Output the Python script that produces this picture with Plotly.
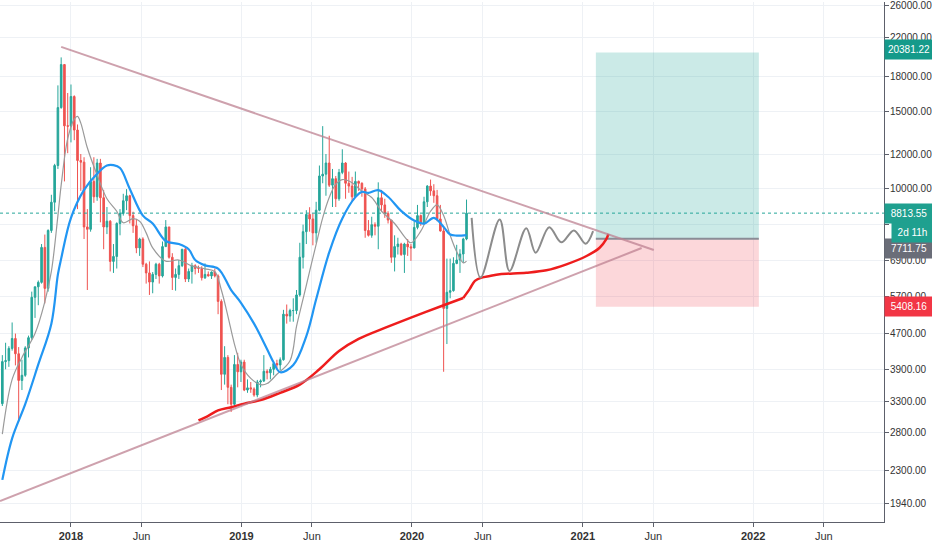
import math
import pandas as pd
import plotly.graph_objects as go

# weekly BTC candles, Monday open
week_start = pd.date_range("2017-08-07", periods=143, freq="7D")

opens = [3260, 4060, 4080, 4350, 4580, 4230, 3680, 3780, 4360, 4600,
         5680, 6000, 6140, 7370, 5950, 8050, 9330, 11300, 15290, 19140,
         13900, 13880, 16200, 13600, 11600, 11500, 8200, 8100, 10400, 9600,
         11450, 9550, 8200, 8450, 6850, 7030, 8350, 8800, 9400, 9650,
         8700, 8250, 7350, 7700, 6750, 6450, 6150, 6400, 6750, 6350,
         7400, 8200, 7000, 6300, 6400, 6700, 7300, 6250, 6500, 6700,
         6600, 6600, 6290, 6400, 6350, 6480, 6350, 5560, 3800, 4150,
         3550, 3250, 4000, 3850, 4050, 3500, 3540, 3520, 3410, 3650,
         3670, 3860, 3830, 3900, 4020, 3990, 4100, 5200, 5150, 5300,
         5300, 5750, 7000, 8000, 8750, 8550, 7950, 8950, 10700, 10800,
         11450, 10200, 10550, 9500, 10900, 11450, 10300, 10150, 9600, 10400,
         10300, 10000, 8050, 7850, 8300, 8230, 9550, 9200, 8800, 8500,
         7000, 7400, 7500, 7100, 7500, 7390, 7350, 8180, 8700, 8350,
         9350, 10150, 9900, 9650, 8550, 8030, 5360, 5830, 5880, 6780,
         6900, 7120, 7700]
highs = [4200, 4480, 4400, 4980, 4700, 4380, 4100, 4400, 4650, 5850,
         6000, 6200, 7500, 7880, 8100, 9700, 11400, 17170, 19870, 19200,
         16500, 17250, 16300, 14000, 12000, 11800, 9000, 11200, 11800, 11700,
         11700, 9950, 9100, 8500, 7500, 8400, 9000, 9750, 9990, 9700,
         8880, 8550, 7750, 7770, 6800, 6850, 6480, 6800, 6800, 7600,
         8500, 8200, 7150, 6600, 6900, 7300, 7400, 6600, 6800, 6750,
         6700, 6680, 6780, 6500, 6500, 6600, 6400, 5620, 4400, 4200,
         3600, 4200, 4250, 4100, 4100, 3700, 3650, 3550, 3690, 3700,
         4200, 3900, 3950, 4040, 4100, 4150, 5320, 5470, 5350, 5650,
         5900, 7550, 8300, 8950, 9090, 8800, 9350, 11300, 13880, 12000,
         13200, 11100, 10700, 11100, 12300, 11500, 10950, 10650, 10950, 10450,
         10350, 10100, 8500, 8650, 8400, 10350, 9950, 9500, 8900, 8500,
         7850, 7750, 7550, 7550, 7700, 7500, 8450, 9200, 8750, 9600,
         10200, 10500, 10250, 9950, 9200, 8180, 6950, 6950, 7000, 7470,
         7300, 7750, 9460]
lows = [3220, 3900, 3950, 4300, 3980, 2970, 3500, 3750, 4150, 4550,
        5100, 5450, 6100, 5500, 5850, 7950, 8900, 11100, 15200, 10400,
        12050, 12750, 12900, 9000, 9900, 7700, 5900, 8000, 9300, 9400,
        8400, 7300, 7900, 6500, 6450, 6600, 7850, 8700, 8950, 8350,
        7950, 7150, 7050, 6650, 6100, 5750, 5800, 6250, 6100, 6300,
        7400, 6950, 5900, 5880, 6250, 6650, 6150, 6150, 6100, 6400,
        6450, 6200, 6250, 6330, 6250, 6300, 5200, 3500, 3600, 3250,
        3122, 3200, 3550, 3650, 3480, 3450, 3450, 3380, 3370, 3550,
        3650, 3700, 3700, 3780, 3930, 3880, 4080, 4950, 5000, 5000,
        5200, 5700, 6600, 7500, 8000, 7450, 7550, 8900, 10300, 9650,
        10100, 9100, 9100, 9400, 10800, 9500, 9800, 9350, 9550, 9900,
        9600, 7750, 7800, 7750, 7850, 7300, 8900, 8600, 8350, 6800,
        6500, 7100, 7050, 6450, 7050, 6870, 7330, 8100, 8250, 8300,
        9100, 9650, 9300, 8450, 8000, 3850, 4450, 5650, 5850, 6750,
        6450, 6800, 7650]
closes = [4060, 4080, 4350, 4580, 4230, 3680, 3780, 4360, 4600, 5680,
          6000, 6140, 7370, 5950, 8050, 9330, 11300, 15290, 19140, 13900,
          13880, 16200, 13600, 11600, 11500, 8200, 8100, 10400, 9600, 11450,
          9550, 8200, 8450, 6850, 7030, 8350, 8800, 9400, 9650, 8700,
          8250, 7350, 7700, 6750, 6450, 6150, 6400, 6750, 6350, 7400,
          8200, 7000, 6300, 6400, 6700, 7300, 6250, 6500, 6700, 6600,
          6600, 6290, 6400, 6350, 6480, 6350, 5560, 3800, 4150, 3550,
          3250, 4000, 3850, 4050, 3500, 3540, 3520, 3410, 3650, 3670,
          3860, 3830, 3900, 4020, 3990, 4100, 5200, 5150, 5300, 5300,
          5750, 7000, 8000, 8750, 8550, 7950, 8950, 10700, 10800, 11450,
          10200, 10550, 9500, 10900, 11450, 10300, 10150, 9600, 10400, 10300,
          10000, 8050, 7850, 8300, 8230, 9550, 9200, 8800, 8500, 7000,
          7400, 7500, 7100, 7500, 7390, 7350, 8180, 8700, 8350, 9350,
          10150, 9900, 9650, 8550, 8030, 5360, 5830, 5880, 6780, 6900,
          7120, 7700, 8813.55]

# slow moving average (blue)
blue_ma_dates = ["2017-08-07", "2017-08-28", "2017-09-25", "2017-10-23", "2017-11-20",
                 "2017-12-04", "2017-12-11", "2018-01-01", "2018-01-29", "2018-02-26",
                 "2018-03-19", "2018-04-02", "2018-04-16", "2018-05-07", "2018-06-04",
                 "2018-06-25", "2018-07-23", "2018-08-20", "2018-09-10", "2018-09-24",
                 "2018-10-15", "2018-11-12", "2018-12-10", "2018-12-31", "2019-01-28",
                 "2019-02-25", "2019-03-11", "2019-03-25", "2019-04-22", "2019-05-20",
                 "2019-06-10", "2019-07-08", "2019-08-05", "2019-09-02", "2019-09-16",
                 "2019-09-30", "2019-10-21", "2019-11-11", "2019-12-09", "2020-01-06",
                 "2020-01-27", "2020-02-17", "2020-03-09", "2020-03-23", "2020-04-06",
                 "2020-04-27"]
blue_ma_values = [2190, 2720, 3250, 4000, 4950,
                  6400, 6950, 8600, 9950, 10830,
                  11300, 11320, 11150, 10000, 8700,
                  8350, 7620, 7500, 7300, 6900,
                  6710, 6600, 5900, 5520, 4950,
                  4330, 4040, 3840, 3990, 4640,
                  5620, 7180, 8570, 9580, 9850,
                  9800, 9940, 9600, 8920, 8480,
                  8340, 8600, 8200, 7880, 7840,
                  7860]

# fast moving average (thin grey)
grey_ma_dates = ["2017-08-07", "2017-08-28", "2017-09-18", "2017-10-16", "2017-11-06",
                 "2017-11-20", "2017-12-04", "2017-12-11", "2017-12-25", "2018-01-08",
                 "2018-01-15", "2018-01-22", "2018-02-05", "2018-02-26", "2018-03-19",
                 "2018-04-09", "2018-04-23", "2018-05-14", "2018-05-28", "2018-06-11",
                 "2018-06-25", "2018-07-23", "2018-08-20", "2018-09-17", "2018-10-15",
                 "2018-11-05", "2018-11-19", "2018-12-03", "2018-12-17", "2018-12-31",
                 "2019-01-21", "2019-02-11", "2019-02-25", "2019-03-18", "2019-04-15",
                 "2019-04-29", "2019-05-13", "2019-05-27", "2019-06-10", "2019-06-24",
                 "2019-07-08", "2019-07-22", "2019-08-05", "2019-08-26", "2019-09-16",
                 "2019-10-07", "2019-10-28", "2019-11-25", "2019-12-16", "2019-12-30",
                 "2020-01-20", "2020-02-10", "2020-02-24", "2020-03-09", "2020-03-23",
                 "2020-04-06", "2020-04-20", "2020-04-27"]
grey_ma_values = [2780, 3700, 4150, 4700, 5550,
                  6500, 8700, 10200, 13000, 14400,
                  14600, 14100, 12400, 10750, 9500,
                  8900, 8380, 8560, 8450, 7950,
                  7350, 6860, 6900, 6690, 6590,
                  6490, 5900, 5150, 4450, 4000,
                  3720, 3600, 3620, 3800, 4080,
                  4880, 5630, 6500, 7490, 8600,
                  9560, 10250, 10500, 10330, 9880,
                  9560, 8900, 8350, 7800, 7550,
                  8020, 8900, 9200, 8700, 7850,
                  7200, 6800, 6860]

# 200 week average (red) and the hand-drawn continuation
red_ma_dates = ["2018-10-01", "2018-10-22", "2018-11-12", "2018-12-10", "2019-01-07",
                "2019-02-11", "2019-03-25", "2019-05-06", "2019-06-17", "2019-07-29",
                "2019-09-09", "2019-11-04", "2019-12-30", "2020-03-09", "2020-04-20"]
red_ma_values = [2987, 3060, 3147, 3200, 3260,
                 3320, 3450, 3600, 3900, 4290,
                 4570, 4840, 5110, 5450, 5660]
red_path_dates = ["2020-04-20", "2020-05-04", "2020-05-15", "2020-05-29", "2020-06-16",
                  "2020-07-07", "2020-09-02", "2020-10-15", "2020-11-27", "2021-01-09",
                  "2021-02-06", "2021-02-20", "2021-02-25"]
red_path_values = [5660, 5935, 6186, 6294, 6349,
                   6405, 6459, 6541, 6747, 7046,
                   7357, 7685, 7912]

# projected grey wave
wave_dates = ["2020-05-08", "2020-05-27", "2020-07-07", "2020-07-28", "2020-09-02",
              "2020-09-22", "2020-10-21", "2020-11-16", "2020-12-13", "2021-01-07",
              "2021-01-23"]
wave_values = [8598, 6294, 8527, 6517, 8149,
               7167, 8191, 7566, 8053, 7512,
               8024]

# triangle
upper_line_dates = ["2017-12-11", "2021-06-02"]
upper_line_values = [20990, 7270]
lower_line_dates = ["2017-08-02", "2021-05-07"]
lower_line_values = [1960, 7345]

# long position tool
box_dates = ["2021-01-29", "2022-01-13"]
entry_price = 7711.75
target_price = 20381.22
stop_price = 5408.16
last_price = 8813.55

x_range = ["2017-08-02", "2022-10-08"]
y_ticks = [26000, 22000, 18000, 15000, 12000, 10000, 8300, 6900, 5700, 4700,
           3900, 3300, 2800, 2300, 1940]
x_ticks = ["2018-01-01", "2018-06-01", "2019-01-01", "2019-06-01", "2020-01-01",
           "2020-06-01", "2021-01-01", "2021-06-01", "2022-01-01", "2022-06-01"]
x_labels = ["<b>2018</b>", "Jun", "<b>2019</b>", "Jun", "<b>2020</b>",
            "Jun", "<b>2021</b>", "Jun", "<b>2022</b>", "Jun"]

GREEN = "#26a69a"
RED = "#ef5350"
FONT = "Liberation Sans, Arial"

fig = go.Figure()

# position boxes
x0, x1 = box_dates
fig.add_trace(go.Scatter(x=[x0, x1, x1, x0, x0],
                         y=[entry_price, entry_price, target_price, target_price, entry_price],
                         fill="toself", fillcolor="rgba(38,166,154,0.24)",
                         line=dict(width=0), mode="lines", hoverinfo="skip"))
fig.add_trace(go.Scatter(x=[x0, x1, x1, x0, x0],
                         y=[stop_price, stop_price, entry_price, entry_price, stop_price],
                         fill="toself", fillcolor="rgba(242,54,69,0.2)",
                         line=dict(width=0), mode="lines", hoverinfo="skip"))
fig.add_trace(go.Scatter(x=box_dates, y=[entry_price, entry_price], mode="lines",
                         line=dict(color="#8a8d96", width=2), hoverinfo="skip"))

# last price line
fig.add_trace(go.Scatter(x=x_range, y=[last_price, last_price], mode="lines",
                         line=dict(color=GREEN, width=1, dash="dot"), hoverinfo="skip"))

fig.add_trace(go.Candlestick(
    x=week_start, open=opens, high=highs, low=lows, close=closes,
    increasing=dict(line=dict(color=GREEN, width=1), fillcolor=GREEN),
    decreasing=dict(line=dict(color=RED, width=1), fillcolor=RED),
    whiskerwidth=0,
))

fig.add_trace(go.Scatter(x=grey_ma_dates, y=grey_ma_values, mode="lines",
                         line=dict(color="#9a9a9a", width=1.2, shape="spline"), hoverinfo="skip"))
fig.add_trace(go.Scatter(x=blue_ma_dates, y=blue_ma_values, mode="lines",
                         line=dict(color="#2196f3", width=2.2, shape="spline"), hoverinfo="skip"))
fig.add_trace(go.Scatter(x=red_ma_dates, y=red_ma_values, mode="lines",
                         line=dict(color="#ee1d1d", width=2.5, shape="spline"), hoverinfo="skip"))
fig.add_trace(go.Scatter(x=red_path_dates, y=red_path_values, mode="lines",
                         line=dict(color="#ee1d1d", width=2.5, shape="spline"), hoverinfo="skip"))
fig.add_trace(go.Scatter(x=wave_dates, y=wave_values, mode="lines",
                         line=dict(color="#8c8c8c", width=2, shape="spline"), hoverinfo="skip"))

for xs, ys in [(upper_line_dates, upper_line_values), (lower_line_dates, lower_line_values)]:
    fig.add_trace(go.Scatter(x=xs, y=ys, mode="lines",
                             line=dict(color="rgba(190,130,145,0.75)", width=2), hoverinfo="skip"))

# price labels on the right scale
labels = [
    (target_price, "20381.22", "#159a8a", 3),
    (last_price, "8813.55", "#1fa08f", 0),
    (entry_price, "7711.75", "#6a6d78", -10),
    (stop_price, "5408.16", "#f23645", 0),
]
for price, text, color, shift in labels:
    fig.add_annotation(xref="paper", x=1, xanchor="left", yref="y", y=math.log10(price),
                       yshift=shift, text=text, showarrow=False, bgcolor=color,
                       font=dict(color="white", size=10, family=FONT),
                       width=44, height=15, borderpad=2)
fig.add_annotation(xref="paper", x=1, xanchor="left", xshift=7, yref="y",
                   y=math.log10(last_price), yshift=-19, text="2d 11h", showarrow=False,
                   bgcolor="#1fa08f", font=dict(color="white", size=10, family=FONT),
                   width=37, height=15, borderpad=2)

fig.update_layout(
    width=932, height=550,
    margin=dict(l=0, r=48, t=0, b=28),
    paper_bgcolor="white", plot_bgcolor="white",
    showlegend=False, hovermode=False,
    font=dict(family=FONT, size=10, color="#333333"),
    xaxis=dict(type="date", range=x_range, tickvals=x_ticks, ticktext=x_labels,
               showgrid=True, gridcolor="#eef1f5", zeroline=False,
               showline=True, linecolor="#5d606b", linewidth=1,
               ticks="outside", ticklen=4, tickcolor="#5d606b",
               rangeslider=dict(visible=False), tickfont=dict(size=11)),
    yaxis=dict(type="log", side="right",
               range=[math.log10(1757.5), math.log10(26534)],
               tickvals=y_ticks,
               ticktext=["" if v == 8300 else f"{v:.2f}" for v in y_ticks],
               showgrid=True, gridcolor="#eef1f5", zeroline=False,
               showline=True, linecolor="#5d606b", linewidth=1,
               ticks="outside", ticklen=4, tickcolor="#5d606b",
               ticklabelstandoff=-1, ticklabeloverflow="allow",
               tickfont=dict(size=10)),
)

# the page's default 8px body margin would push the chart off the window
fig.write_html("out.html", config={"displayModeBar": False},
               post_script="document.body.style.margin='0';")
